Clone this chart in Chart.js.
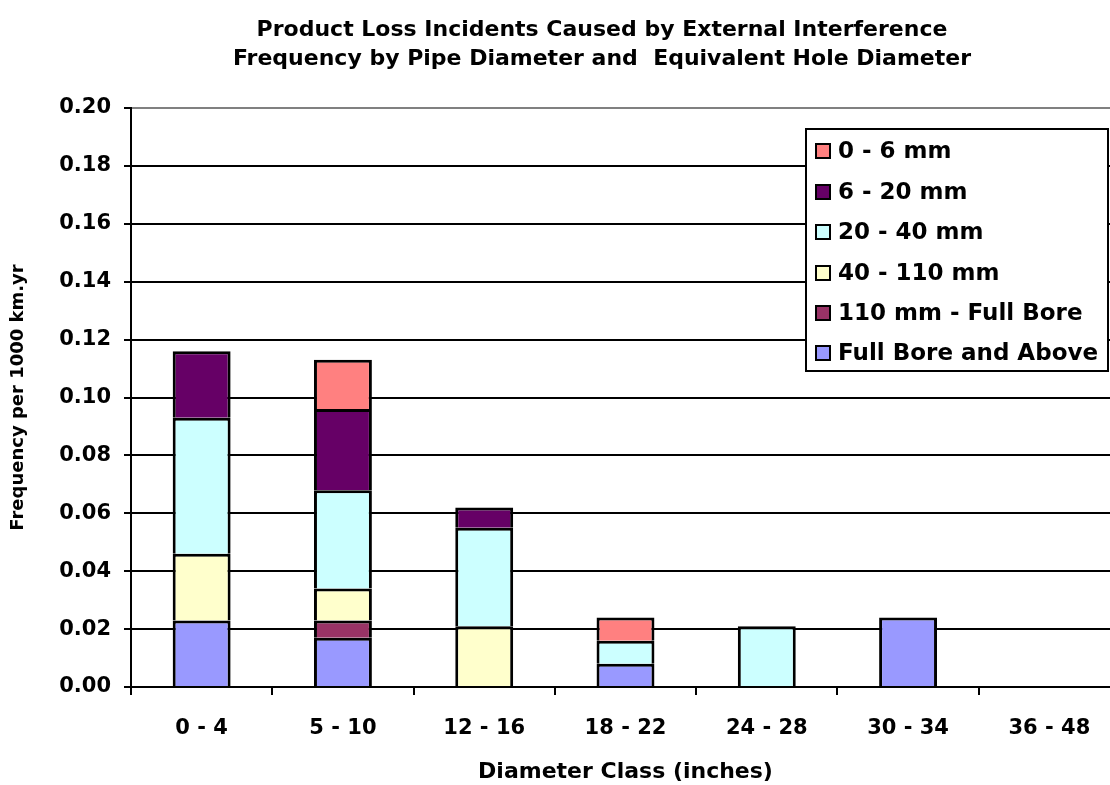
<!DOCTYPE html>
<html><head><meta charset="utf-8">
<script src="https://cdn.jsdelivr.net/npm/chart.js@4.4.1/dist/chart.umd.min.js"></script>
<style>
html,body{margin:0;padding:0;overflow:hidden;background:#fff;width:1110px;height:785px}
#wrap{position:absolute;left:0;top:0;width:1130px;height:785px}
</style></head><body>
<div id="wrap"><canvas id="c" width="1130" height="785"></canvas></div>
<script>
// ---- data ----
const categories = ['0 - 4', '5 - 10', '12 - 16', '18 - 22', '24 - 28', '30 - 34', '36 - 48'];
const titleLines = ['Product Loss Incidents Caused by External Interference',
                    'Frequency by Pipe Diameter and  Equivalent Hole Diameter'];
const xTitle = 'Diameter Class (inches)';
const yTitle = 'Frequency per 1000 km.yr';
const yTicks = [0, 0.02, 0.04, 0.06, 0.08, 0.10, 0.12, 0.14, 0.16, 0.18, 0.20];

const fullBoreAbove   = [0.023, 0.017, 0,     0.008, 0,     0.024, 0];
const mm110toFullBore = [0,     0.006, 0,     0,     0,     0,     0];
const mm40to110       = [0.023, 0.011, 0.021, 0,     0,     0,     0];
const mm20to40        = [0.047, 0.034, 0.034, 0.008, 0.021, 0,     0];
const mm6to20         = [0.023, 0.028, 0.007, 0,     0,     0,     0];
const mm0to6          = [0,     0.017, 0,     0.008, 0,     0,     0];

const seriesLabels = ['Full Bore and Above', '110 mm - Full Bore', '40 - 110 mm', '20 - 40 mm', '6 - 20 mm', '0 - 6 mm'];
const seriesValues = [fullBoreAbove, mm110toFullBore, mm40to110, mm20to40, mm6to20, mm0to6];
const seriesColors = ['#9999FF', '#993366', '#FFFFCC', '#CCFFFF', '#660066', '#FF8080'];

// ---- styling ----
const FONT = 'DejaVu Sans';
const datasets = seriesLabels.map((lab, i) => ({
  label: lab,
  data: seriesValues[i],
  backgroundColor: seriesColors[i],
  borderColor: '#000',
  borderWidth: 3,
  borderSkipped: 'start',
  barPercentage: 0.41,
  categoryPercentage: 1.0
}));

const overlay = {
  id: 'overlay',
  afterDraw(chart) {
    const ctx = chart.ctx;
    ctx.save();
    // title
    ctx.fillStyle = '#000';
    ctx.font = 'bold 22px "' + FONT + '"';
    ctx.textAlign = 'center';
    ctx.textBaseline = 'alphabetic';
    ctx.fillText(titleLines[0], 602, 36);
    ctx.fillText(titleLines[1], 602, 65);
    // legend
    const lx = 806, ly = 129, lw = 302, lh = 242;
    ctx.fillStyle = '#fff';
    ctx.fillRect(lx, ly, lw, lh);
    ctx.strokeStyle = '#000';
    ctx.lineWidth = 2;
    ctx.strokeRect(lx, ly, lw, lh);
    const rowsY = [151, 192, 232, 273, 313, 353];
    ctx.font = 'bold 23px "' + FONT + '"';
    ctx.textAlign = 'left';
    ctx.textBaseline = 'middle';
    const ds = chart.data.datasets;
    for (let k = 0; k < ds.length; k++) {
      const d = ds[ds.length - 1 - k];
      const y = rowsY[k];
      ctx.fillStyle = d.backgroundColor;
      ctx.fillRect(816, y - 7, 14, 14);
      ctx.strokeStyle = '#000';
      ctx.lineWidth = 2;
      ctx.strokeRect(816, y - 7, 14, 14);
      ctx.fillStyle = '#000';
      ctx.fillText(d.label, 838, y + 1);
    }
    ctx.restore();
  }
};

new Chart(document.getElementById('c'), {
  type: 'bar',
  data: { labels: categories, datasets },
  plugins: [overlay],
  options: {
    responsive: false,
    animation: false,
    devicePixelRatio: 1,
    layout: { padding: { left: 0, top: 108, right: 10, bottom: 0 } },
    plugins: { legend: { display: false }, title: { display: false }, tooltip: { enabled: false } },
    scales: {
      x: {
        stacked: true,
        offset: true,
        grid: { display: true, drawOnChartArea: false, offset: true, drawTicks: true, tickLength: 8, color: '#000', lineWidth: 2 },
        border: { display: true, color: '#000', width: 2 },
        ticks: { color: '#000', font: { family: FONT, weight: 'bold', size: 21 }, padding: 21, maxRotation: 0, autoSkip: false },
        title: { display: true, text: xTitle, color: '#000', font: { family: FONT, weight: 'bold', size: 22 }, padding: 0 },
        afterFit: s => { s.height = 98; }
      },
      y: {
        stacked: true,
        min: 0, max: 0.2,
        afterBuildTicks: s => { s.ticks = yTicks.map(v => ({ value: v })); },
        grid: { color: c => (c.index === yTicks.length - 1 ? '#808080' : '#000'), lineWidth: 2, tickColor: '#000', tickLength: 7, drawTicks: true },
        border: { display: true, color: '#000', width: 2 },
        ticks: { color: '#000', font: { family: FONT, weight: 'bold', size: 21 }, padding: 13, callback: v => Number(v).toFixed(2) },
        title: { display: true, text: yTitle, color: '#000', font: { family: FONT, weight: 'bold', size: 18 }, padding: { top: 8, bottom: 0 } },
        afterFit: s => { s.width = 131; }
      }
    }
  }
});
</script>
</body></html>
